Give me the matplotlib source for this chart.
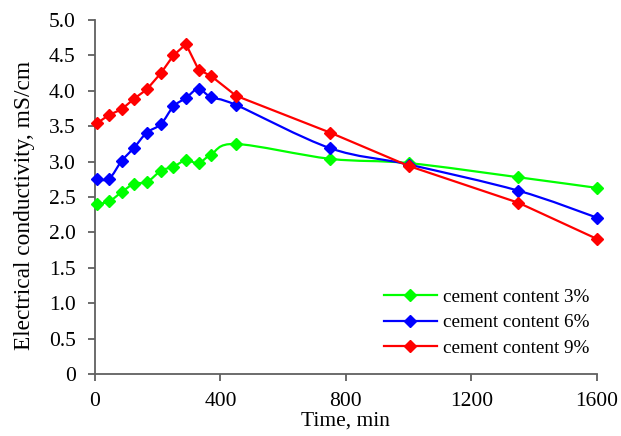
import matplotlib
matplotlib.use("Agg")
import matplotlib.pyplot as plt
import numpy as np
from matplotlib.path import Path
from matplotlib.patches import PathPatch
from matplotlib.lines import Line2D

plt.rcParams['font.family'] = ['Liberation Serif', 'DejaVu Serif']

# time, min
time = [5, 45, 85, 125, 165, 210, 250, 290, 330, 370, 450, 750, 1000, 1350, 1600]

# electrical conductivity, mS/cm
cement_3 = [2.40, 2.44, 2.57, 2.69, 2.71, 2.87, 2.93, 3.02, 2.98, 3.10, 3.25, 3.04, 2.98, 2.78, 2.63]
cement_6 = [2.75, 2.76, 3.01, 3.20, 3.41, 3.53, 3.78, 3.90, 4.03, 3.91, 3.80, 3.19, 2.96, 2.59, 2.21]
cement_9 = [3.54, 3.66, 3.74, 3.89, 4.02, 4.25, 4.50, 4.66, 4.30, 4.21, 3.93, 3.41, 2.94, 2.42, 1.91]

labels = ["cement content 3%", "cement content 6%", "cement content 9%"]
colors = ["#00ff00", "#0000ff", "#ff0000"]
smooth = [True, True, False]


def smooth_path(x, y):
    # excel-like smoothed line: cubic bezier through every point
    p = np.column_stack((x, y)).astype(float)
    ext = np.vstack((p[0], p, p[-1]))
    verts = [p[0]]
    codes = [Path.MOVETO]
    for i in range(len(p) - 1):
        c1 = ext[i + 1] + (ext[i + 2] - ext[i]) / 6.0
        c2 = ext[i + 2] - (ext[i + 3] - ext[i + 1]) / 6.0
        verts += [c1, c2, p[i + 1]]
        codes += [Path.CURVE4] * 3
    return Path(verts, codes)


fig, ax = plt.subplots(figsize=(6.21, 4.36), dpi=100)
fig.subplots_adjust(left=0.153, right=0.961, bottom=0.142, top=0.954)

handles = []
for vals, lab, col, sm in zip([cement_3, cement_6, cement_9], labels, colors, smooth):
    if sm:
        ax.add_patch(PathPatch(smooth_path(time, vals), facecolor="none",
                               edgecolor=col, lw=1.6, clip_on=False, zorder=2))
        ax.plot(time, vals, linestyle="none", marker="D", color=col,
                markersize=6.5, clip_on=False, zorder=3)
    else:
        ax.plot(time, vals, marker="D", color=col, lw=1.6,
                markersize=6.5, clip_on=False, zorder=3)
    handles.append(Line2D([], [], color=col, lw=1.6, marker="D", markersize=6.5))

ax.set_xlim(0, 1600)
ax.set_ylim(0, 5)
ax.set_xticks([0, 400, 800, 1200, 1600])
yt = np.arange(0, 5.01, 0.5)
ax.set_yticks(yt)
ax.set_yticklabels(["0"] + ["%.1f" % v for v in yt[1:]])

for s in ["top", "right"]:
    ax.spines[s].set_visible(False)
for s in ["left", "bottom"]:
    ax.spines[s].set_color("#606060")
    ax.spines[s].set_linewidth(1.3)
ax.tick_params(direction="out", length=5, width=1.3, color="#606060",
               labelsize=15.5)
ax.tick_params(axis="x", pad=8)
ax.tick_params(axis="y", pad=9)

ax.set_xlabel("Time, min", fontsize=15.5, labelpad=0)
ax.set_ylabel("Electrical conductivity, mS/cm", fontsize=16.8)
ax.yaxis.set_label_coords(-0.12, 0.475)

ax.legend(handles, labels, loc="lower right", bbox_to_anchor=(1.02, 0.0),
          frameon=False, fontsize=13.8, handlelength=2.8, handletextpad=0.3,
          labelspacing=0.42)

fig.savefig("out.png", dpi=100)
